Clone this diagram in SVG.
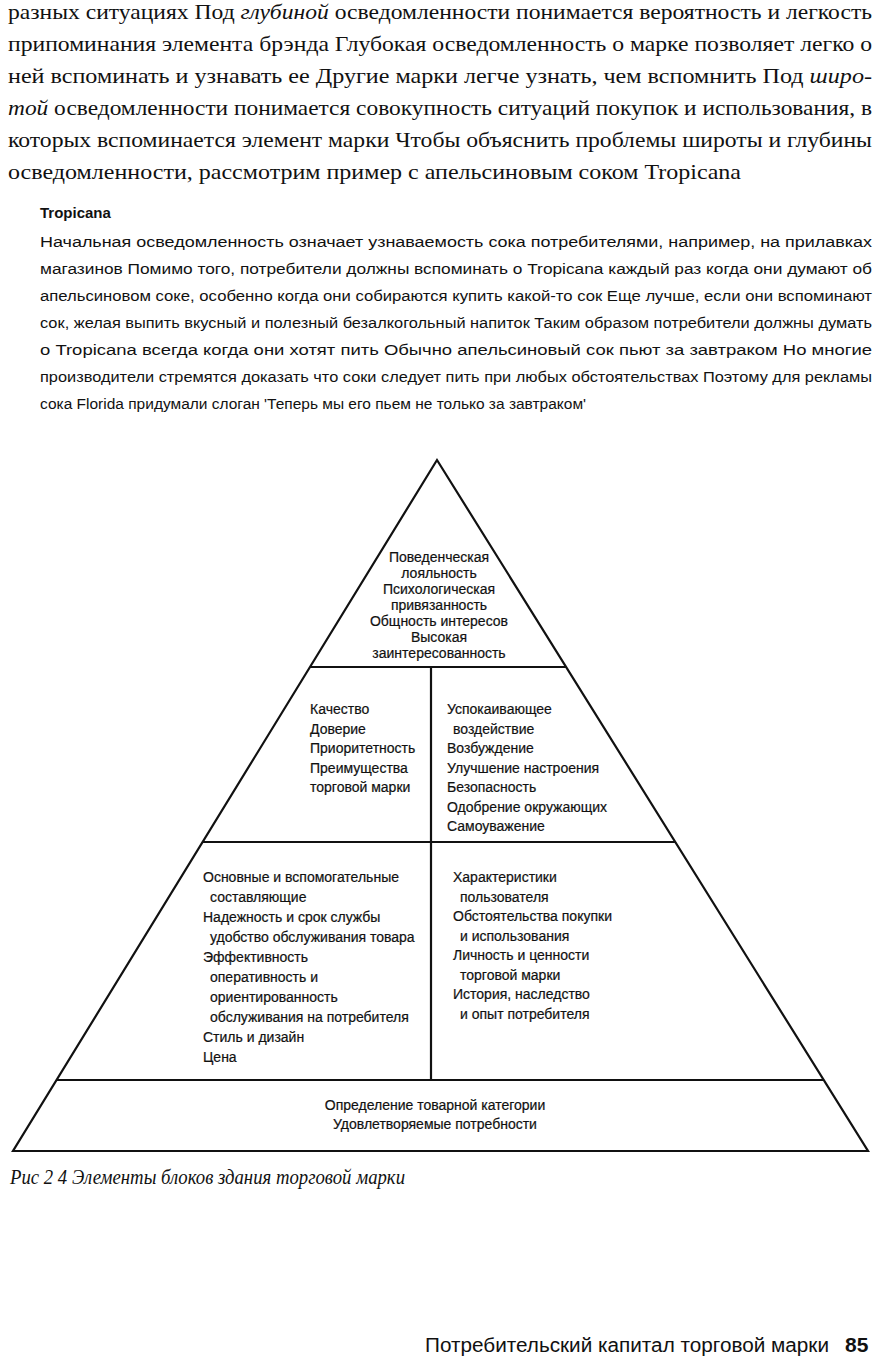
<svg xmlns="http://www.w3.org/2000/svg" width="882" height="1368" viewBox="0 0 882 1368">
<style>
.body{font-family:"Liberation Serif","Times New Roman",serif;font-size:21px;fill:#111}
.sans{font-family:"Liberation Sans",Arial,sans-serif;fill:#111}
.p2{font-size:15.5px}
.cell{font-family:"Liberation Sans",Arial,sans-serif;font-size:14px;fill:#111;stroke:#111;stroke-width:0.2}
.it{font-style:italic}
.edge{stroke:#111;stroke-width:2.2;fill:none;stroke-linejoin:miter}
</style>
<rect width="882" height="1368" fill="#fff"/>
<g id="text-top" class="body">
<text x="8" y="19" textLength="864" lengthAdjust="spacingAndGlyphs">разных ситуациях  Под <tspan class="it">глубиной</tspan> осведомленности понимается вероятность и легкость</text>
<text x="8" y="51" textLength="864" lengthAdjust="spacingAndGlyphs">припоминания элемента брэнда  Глубокая осведомленность о марке позволяет легко о</text>
<text x="8" y="83" textLength="864" lengthAdjust="spacingAndGlyphs">ней вспоминать и узнавать ее  Другие марки легче узнать, чем вспомнить  Под <tspan class="it">широ-</tspan></text>
<text x="8" y="115" textLength="864" lengthAdjust="spacingAndGlyphs"><tspan class="it">той</tspan> осведомленности понимается совокупность ситуаций покупок и использования, в</text>
<text x="8" y="147" textLength="864" lengthAdjust="spacingAndGlyphs">которых вспоминается элемент марки  Чтобы объяснить проблемы широты и глубины</text>
<text x="8" y="179" textLength="733" lengthAdjust="spacingAndGlyphs">осведомленности, рассмотрим пример с апельсиновым соком Tropicana</text>
</g>
<g id="text-box" class="sans">
<text x="40" y="218" font-size="15" font-weight="bold">Tropicana</text>
<g class="p2">
<text x="40" y="247" textLength="832" lengthAdjust="spacingAndGlyphs">Начальная  осведомленность  означает  узнаваемость  сока  потребителями,  например,  на  прилавках</text>
<text x="40" y="274" textLength="832" lengthAdjust="spacingAndGlyphs">магазинов  Помимо того, потребители должны вспоминать о Tropicana каждый раз  когда они думают об</text>
<text x="40" y="301" textLength="832" lengthAdjust="spacingAndGlyphs">апельсиновом соке, особенно когда они собираются купить какой-то сок  Еще лучше, если они вспоминают</text>
<text x="40" y="328" textLength="832" lengthAdjust="spacingAndGlyphs">сок, желая выпить вкусный и полезный безалкогольный напиток  Таким образом  потребители должны думать</text>
<text x="40" y="355" textLength="832" lengthAdjust="spacingAndGlyphs">о Tropicana всегда  когда они хотят пить  Обычно апельсиновый сок пьют за завтраком  Но многие</text>
<text x="40" y="382" textLength="832" lengthAdjust="spacingAndGlyphs">производители стремятся доказать  что соки следует пить при любых обстоятельствах  Поэтому для рекламы</text>
<text x="40" y="409" textLength="546" lengthAdjust="spacingAndGlyphs">сока Florida придумали слоган  'Теперь мы его пьем не только за завтраком'</text>
</g>
</g>
<g id="connectors">
<polygon class="edge" points="437,460 13,1151 868,1151"/>
<line class="edge" x1="310" y1="667" x2="566" y2="667"/>
<line class="edge" x1="202" y1="842" x2="675" y2="842"/>
<line class="edge" x1="56" y1="1080" x2="824" y2="1080"/>
<line class="edge" x1="431" y1="667" x2="431" y2="1080"/>
</g>
<g id="node-top" class="cell" text-anchor="middle">
<text x="439" y="562">Поведенческая</text>
<text x="439" y="578">лояльность</text>
<text x="439" y="594">Психологическая</text>
<text x="439" y="610">привязанность</text>
<text x="439" y="626">Общность интересов</text>
<text x="439" y="642">Высокая</text>
<text x="439" y="658">заинтересованность</text>
</g>
<g id="node-mid-left" class="cell">
<text x="310" y="714">Качество</text>
<text x="310" y="733.5">Доверие</text>
<text x="310" y="753">Приоритетность</text>
<text x="310" y="772.5">Преимущества</text>
<text x="310" y="792">торговой марки</text>
</g>
<g id="node-mid-right" class="cell">
<text x="447" y="714">Успокаивающее</text>
<text x="453" y="733.5">воздействие</text>
<text x="447" y="753">Возбуждение</text>
<text x="447" y="772.5">Улучшение настроения</text>
<text x="447" y="792">Безопасность</text>
<text x="447" y="811.5">Одобрение окружающих</text>
<text x="447" y="831">Самоуважение</text>
</g>
<g id="node-low-left" class="cell">
<text x="203" y="882">Основные и  вспомогательные</text>
<text x="210" y="902">составляющие</text>
<text x="203" y="922">Надежность и срок службы</text>
<text x="210" y="942">удобство обслуживания  товара</text>
<text x="203" y="962">Эффективность</text>
<text x="210" y="982">оперативность и</text>
<text x="210" y="1002">ориентированность</text>
<text x="210" y="1022">обслуживания на потребителя</text>
<text x="203" y="1042">Стиль и дизайн</text>
<text x="203" y="1062">Цена</text>
</g>
<g id="node-low-right" class="cell">
<text x="453" y="882">Характеристики</text>
<text x="460" y="901.5">пользователя</text>
<text x="453" y="921">Обстоятельства покупки</text>
<text x="460" y="940.5">и использования</text>
<text x="453" y="960">Личность и ценности</text>
<text x="460" y="979.5">торговой марки</text>
<text x="453" y="999">История, наследство</text>
<text x="460" y="1018.5">и опыт потребителя</text>
</g>
<g id="node-base" class="cell" text-anchor="middle">
<text x="435" y="1110">Определение товарной категории</text>
<text x="435" y="1129">Удовлетворяемые потребности</text>
</g>
<g id="caption">
<text x="10" y="1184" class="body it" font-size="15" textLength="395" lengthAdjust="spacingAndGlyphs">Рис 2 4  Элементы блоков здания торговой марки</text>
</g>
<g id="footer" class="sans">
<text x="425" y="1352" font-size="20" textLength="404" lengthAdjust="spacingAndGlyphs">Потребительский капитал торговой марки</text>
<text x="845" y="1352" font-size="21" font-weight="bold">85</text>
</g>
</svg>
